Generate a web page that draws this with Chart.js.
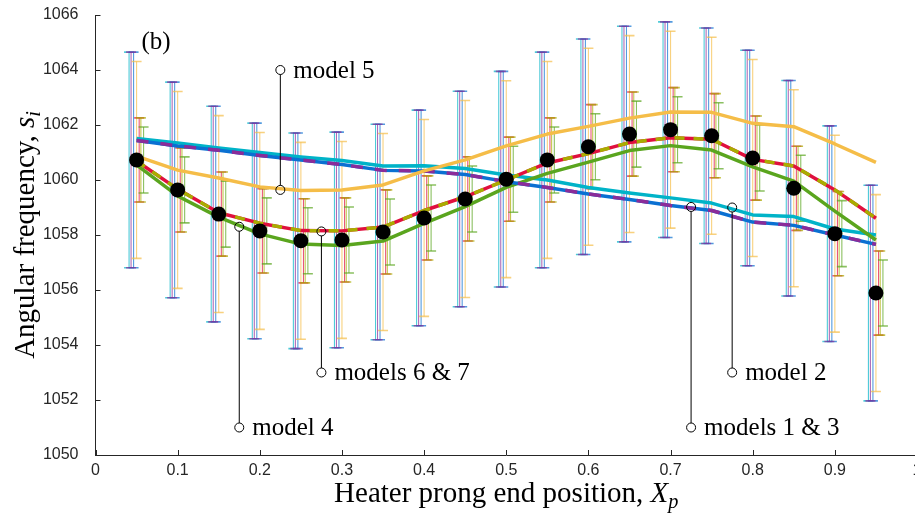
<!DOCTYPE html>
<html>
<head>
<meta charset="utf-8">
<script src="https://cdn.jsdelivr.net/npm/chart.js"></script>
<style>
  html, body { margin: 0; padding: 0; background: #fff; overflow: hidden; }
  #wrap { width: 925px; height: 518px; }
</style>
</head>
<body>
<div id="wrap"><canvas id="c" width="925" height="518"></canvas></div>
<script>
// Heater prong end positions
const positions = [0.05, 0.10, 0.15, 0.20, 0.25, 0.30, 0.35, 0.40, 0.45, 0.50,
                   0.55, 0.60, 0.65, 0.70, 0.75, 0.80, 0.85, 0.90, 0.95];

// Measured angular frequency
const measured = [1060.73, 1059.64, 1058.76, 1058.15, 1057.79, 1057.82, 1058.11, 1058.62, 1059.31, 1060.03,
                  1060.73, 1061.21, 1061.67, 1061.83, 1061.61, 1060.80, 1059.70, 1058.05, 1055.89];

// Model predictions
const model1 = [1061.44, 1061.24, 1061.08, 1060.89, 1060.73, 1060.56, 1060.35, 1060.33, 1060.20, 1059.94,
                1059.73, 1059.49, 1059.29, 1059.07, 1058.89, 1058.47, 1058.35, 1058.00, 1057.66];
const model2 = [1061.51, 1061.35, 1061.16, 1061.00, 1060.84, 1060.71, 1060.51, 1060.52, 1060.42, 1060.18,
                1060.00, 1059.73, 1059.53, 1059.35, 1059.16, 1058.73, 1058.67, 1058.22, 1058.00];
const model3 = [1061.44, 1061.24, 1061.08, 1060.89, 1060.73, 1060.56, 1060.35, 1060.33, 1060.20, 1059.94,
                1059.73, 1059.49, 1059.29, 1059.07, 1058.89, 1058.47, 1058.35, 1058.00, 1057.66];
const model4 = [1060.55, 1059.42, 1058.65, 1058.04, 1057.67, 1057.62, 1057.78, 1058.42, 1059.03, 1059.73,
                1060.24, 1060.65, 1061.07, 1061.25, 1061.09, 1060.48, 1059.96, 1058.87, 1057.82];
const model5 = [1060.87, 1060.36, 1060.07, 1059.75, 1059.62, 1059.64, 1059.82, 1060.33, 1060.73, 1061.24,
                1061.67, 1061.95, 1062.25, 1062.47, 1062.46, 1062.06, 1061.94, 1061.31, 1060.64];
const model6 = [1060.69, 1059.67, 1058.81, 1058.43, 1058.16, 1058.15, 1058.29, 1058.89, 1059.39, 1060.00,
                1060.62, 1060.96, 1061.36, 1061.54, 1061.48, 1060.75, 1060.51, 1059.64, 1058.61];
const model7 = [1060.69, 1059.67, 1058.81, 1058.43, 1058.16, 1058.15, 1058.29, 1058.89, 1059.39, 1060.00,
                1060.62, 1060.96, 1061.36, 1061.54, 1061.48, 1060.75, 1060.51, 1059.64, 1058.61];

// Half-width of each model's uncertainty band about the measurements
const errModel1 = 3.92;
const errModel2 = 3.92;
const errModel3 = 3.92;
const errModel4 = 1.20;
const errModel5 = 3.58;
const errModel6 = 1.53;
const errModel7 = 1.53;

// Axis tick labels
const xTickLabels = ['0', '0.1', '0.2', '0.3', '0.4', '0.5', '0.6', '0.7', '0.8', '0.9', '1'];
const yTickLabels = ['1050', '1052', '1054', '1056', '1058', '1060', '1062', '1064', '1066'];

// Callouts: text, x position, curve value, label value
const noteText   = ['model 5', 'model 4', 'models 6 & 7', 'models 1 & 3', 'model 2'];
const noteX      = [0.225, 0.175, 0.275, 0.725, 0.775];
const noteValue  = [1059.64, 1058.30, 1058.13, 1059.02, 1059.00];
const noteLabelY = [1064, 1051, 1053, 1051, 1053];

// ---- styling ----
const COLORS = {
  blue:   '#0A70D2',
  cyan:   '#00B3C8',
  purple: '#8A2C99',
  green:  '#5AA51E',
  yellow: '#F5BD48',
  red:    '#E0103E',
  olive:  '#A9AD00'
};
const AXIS_COLOR = '#262626';
const SERIF = "'Liberation Serif', 'Times New Roman', serif";
const SANS = "'Liberation Sans', Arial, sans-serif";

const toPoints = arr => arr.map((v, i) => ({ x: positions[i], y: v }));

const lineSet = (label, values, color, dash) => ({
  label,
  data: toPoints(values),
  borderColor: color,
  backgroundColor: color,
  borderWidth: 3.5,
  borderDash: dash || [],
  borderCapStyle: 'butt',
  borderJoinStyle: 'round',
  pointRadius: 0,
  tension: 0,
  fill: false
});

// error bars: colour, horizontal pixel shift, half-width (drawn in this order)
const errorSets = [
  { color: COLORS.cyan,   shift: -7.5, err: errModel2 },
  { color: COLORS.blue,   shift: -3.0, err: errModel1 },
  { color: COLORS.purple, shift: -5.5, err: errModel3 },
  { color: COLORS.yellow, shift:  0.0, err: errModel5 },
  { color: COLORS.red,    shift:  2.6, err: errModel6 },
  { color: COLORS.olive,  shift:  4.3, err: errModel7 },
  { color: COLORS.green,  shift:  7.0, err: errModel4 }
];
const CAP = 5;

const errorBarPlugin = {
  id: 'errorBars',
  beforeDatasetsDraw(chart) {
    const { ctx, scales: { x, y } } = chart;
    ctx.save();
    ctx.globalAlpha = 0.7;
    errorSets.forEach(s => {
      ctx.strokeStyle = s.color;
      positions.forEach((p, i) => {
        const px = x.getPixelForValue(p) + s.shift;
        const top = y.getPixelForValue(measured[i] + s.err);
        const bot = y.getPixelForValue(measured[i] - s.err);
        ctx.lineWidth = 1.1;
        ctx.beginPath();
        ctx.moveTo(px, top);
        ctx.lineTo(px, bot);
        ctx.stroke();
        ctx.lineWidth = 1.6;
        ctx.beginPath();
        ctx.moveTo(px - CAP, top); ctx.lineTo(px + CAP, top);
        ctx.moveTo(px - CAP, bot); ctx.lineTo(px + CAP, bot);
        ctx.stroke();
      });
    });
    ctx.restore();
  }
};

// draws a run of text pieces (plain / italic / subscript) starting at x
function richWidth(ctx, parts, size) {
  let w = 0;
  parts.forEach(pt => {
    const s = pt.sub ? size * 0.7 : size;
    ctx.font = (pt.italic ? 'italic ' : '') + s + 'px ' + SERIF;
    w += ctx.measureText(pt.text).width;
  });
  return w;
}
function drawRich(ctx, parts, x, y, size) {
  let cx = x;
  parts.forEach(pt => {
    const s = pt.sub ? size * 0.7 : size;
    ctx.font = (pt.italic ? 'italic ' : '') + s + 'px ' + SERIF;
    ctx.fillText(pt.text, cx, pt.sub ? y + size * 0.22 : y);
    cx += ctx.measureText(pt.text).width;
  });
}

const decorPlugin = {
  id: 'decor',
  afterDatasetsDraw(chart) {
    const { ctx, chartArea: ca, scales: { x, y } } = chart;
    ctx.save();
    // inward tick marks
    ctx.strokeStyle = AXIS_COLOR;
    ctx.lineWidth = 1;
    ctx.beginPath();
    x.ticks.forEach(t => {
      const px = Math.round(x.getPixelForValue(t.value)) + 0.5;
      ctx.moveTo(px, ca.bottom);
      ctx.lineTo(px, ca.bottom - 5);
    });
    y.ticks.forEach(t => {
      const py = Math.round(y.getPixelForValue(t.value)) + 0.5;
      ctx.moveTo(ca.left, py);
      ctx.lineTo(ca.left + 5, py);
    });
    ctx.stroke();

    // callouts
    const r = 4.5;
    ctx.strokeStyle = '#000';
    ctx.fillStyle = '#000';
    ctx.lineWidth = 1;
    noteText.forEach((txt, i) => {
      const px = x.getPixelForValue(noteX[i]);
      const py = y.getPixelForValue(noteValue[i]);
      const ly = y.getPixelForValue(noteLabelY[i]);
      const dir = ly < py ? -1 : 1;
      ctx.beginPath();
      ctx.arc(px, py, r, 0, Math.PI * 2);
      ctx.stroke();
      ctx.beginPath();
      ctx.arc(px, ly, r, 0, Math.PI * 2);
      ctx.stroke();
      ctx.beginPath();
      ctx.moveTo(px, py + dir * r);
      ctx.lineTo(px, ly - dir * r);
      ctx.stroke();
      ctx.font = '25px ' + SERIF;
      ctx.textBaseline = 'alphabetic';
      ctx.textAlign = 'left';
      ctx.fillText(txt, px + 13, ly + 7.5);
    });

    // panel tag
    ctx.font = '25px ' + SERIF;
    ctx.fillText('(b)', ca.left + 46, ca.top + 34);
    ctx.restore();
  },
  afterDraw(chart) {
    const { ctx, chartArea: ca } = chart;
    ctx.save();
    ctx.fillStyle = '#000';
    ctx.textBaseline = 'alphabetic';
    ctx.textAlign = 'left';
    const size = 29;
    const xParts = [
      { text: 'Heater prong end position, ' },
      { text: 'X', italic: true },
      { text: 'p', italic: true, sub: true }
    ];
    const xw = richWidth(ctx, xParts, size);
    drawRich(ctx, xParts, (ca.left + ca.right) / 2 - xw / 2, 502, size);

    const yParts = [
      { text: 'Angular frequency, ' },
      { text: 's', italic: true },
      { text: 'i', italic: true, sub: true }
    ];
    const yw = richWidth(ctx, yParts, size);
    ctx.translate(34, (ca.top + ca.bottom) / 2);
    ctx.rotate(-Math.PI / 2);
    drawRich(ctx, yParts, -yw / 2, 0, size);
    ctx.restore();
  }
};

new Chart(document.getElementById('c'), {
  type: 'line',
  data: {
    datasets: [
      {
        label: 'measured',
        data: toPoints(measured),
        showLine: false,
        pointRadius: 7.5,
        pointHoverRadius: 7.5,
        pointBackgroundColor: '#000',
        pointBorderColor: '#000',
        pointBorderWidth: 0,
        borderColor: '#000',
        backgroundColor: '#000'
      },
      lineSet('model 5', model5, COLORS.yellow),
      lineSet('model 7', model7, COLORS.olive, [10, 9]),
      lineSet('model 6', model6, COLORS.red),
      lineSet('model 3', model3, COLORS.purple, [12, 12]),
      lineSet('model 1', model1, COLORS.blue),
      lineSet('model 4', model4, COLORS.green),
      lineSet('model 2', model2, COLORS.cyan)
    ]
  },
  options: {
    responsive: false,
    animation: false,
    events: [],
    layout: { padding: { left: 0, right: 8, top: 15, bottom: 0 } },
    plugins: {
      legend: { display: false },
      tooltip: { enabled: false },
      title: { display: false }
    },
    scales: {
      x: {
        type: 'linear',
        min: 0,
        max: 1,
        grid: { display: false },
        border: { display: true, color: AXIS_COLOR, width: 1 },
        ticks: {
          stepSize: 0.1,
          autoSkip: false,
          maxRotation: 0,
          padding: -2,
          color: AXIS_COLOR,
          font: { family: SANS, size: 16 },
          callback: (v, i) => xTickLabels[i]
        },
        afterFit(scale) {
          scale.height = 63;
          scale.paddingLeft = 0;
          scale.paddingRight = 0;
        }
      },
      y: {
        type: 'linear',
        min: 1050,
        max: 1066,
        grid: { display: false },
        border: { display: true, color: AXIS_COLOR, width: 1 },
        ticks: {
          stepSize: 2,
          padding: 9,
          color: AXIS_COLOR,
          font: { family: SANS, size: 16 },
          callback: (v, i) => yTickLabels[i]
        },
        afterFit(scale) {
          scale.width = 95.5;
          scale.paddingTop = 0;
          scale.paddingBottom = 0;
        }
      }
    }
  },
  plugins: [errorBarPlugin, decorPlugin]
});
</script>
</body>
</html>
